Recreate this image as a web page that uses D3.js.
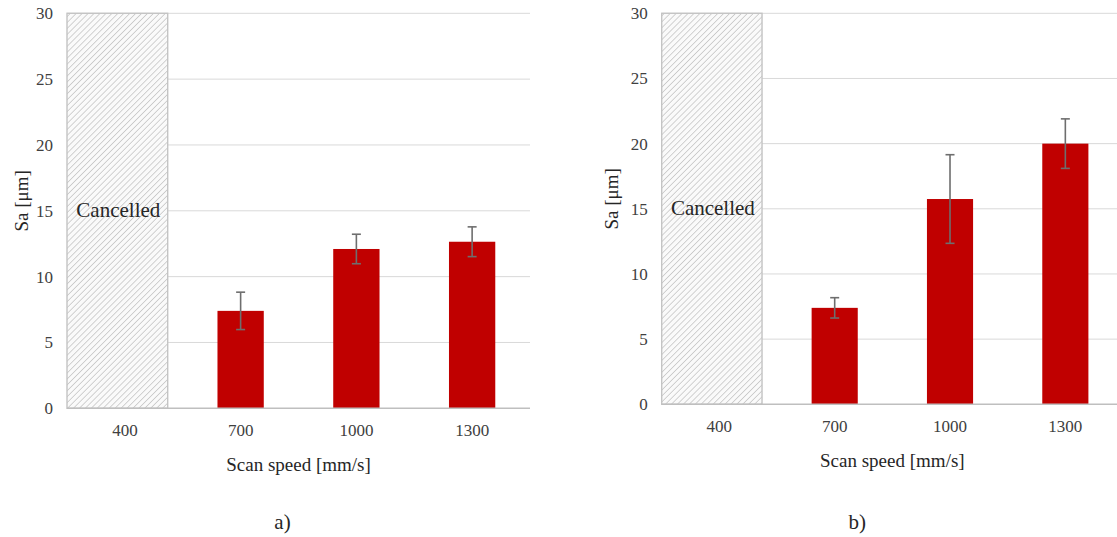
<!DOCTYPE html>
<html>
<head>
<meta charset="utf-8">
<script src="https://cdn.jsdelivr.net/npm/d3@7"></script>
<style>
  html, body { margin: 0; padding: 0; background: #fff; }
</style>
</head>
<body>
<svg id="chart" width="1117" height="537"></svg>
<script>
// Scan speed categories (mm/s)
const categories = ["400", "700", "1000", "1300"];
// Mean surface roughness Sa (µm); the 400 mm/s build was cancelled
const saA = [null, 7.4, 12.1, 12.65];
const errA = [null, 1.42, 1.12, 1.13];
const saB = [null, 7.4, 15.75, 20.0];
const errB = [null, 0.78, 3.4, 1.9];
const cancelledCategory = "400";
const cancelledLabel = "Cancelled";
const yTicks = [0, 5, 10, 15, 20, 25, 30];
const yMax = 30;
const xTitle = "Scan speed [mm/s]";
const yTitle = "Sa [μm]";
const captions = ["a)", "b)"];

const FONT = "'Liberation Serif', 'Times New Roman', serif";
const svg = d3.select("#chart");

// Shared diagonal hatch used for the cancelled run
const defs = svg.append("defs");
const pat = defs.append("pattern")
  .attr("id", "hatch")
  .attr("patternUnits", "userSpaceOnUse")
  .attr("width", 4.2).attr("height", 4.2)
  .attr("patternTransform", "rotate(45)");
pat.append("rect").attr("width", 4.2).attr("height", 4.2).attr("fill", "#fafafa");
pat.append("line")
  .attr("x1", 0).attr("y1", 0).attr("x2", 0).attr("y2", 4.2)
  .attr("stroke", "#c8c8c8").attr("stroke-width", 1.6);

function panel(cfg) {
  const { x0, x1, yTop, yBottom, values, errors, caption, captionShift, yTitleShift } = cfg;
  const g = svg.append("g");

  const x = d3.scaleBand().domain(categories).range([x0, x1])
    .paddingInner(0.6).paddingOuter(0.3);
  const step = x.step();
  const y = d3.scaleLinear().domain([0, yMax]).range([yBottom, yTop]);

  // Horizontal gridlines
  g.append("g").selectAll("line").data(yTicks.filter(t => t > 0)).join("line")
    .attr("x1", x0).attr("x2", x1)
    .attr("y1", d => y(d)).attr("y2", d => y(d))
    .attr("stroke", "#d9d9d9").attr("stroke-width", 1);

  // Y axis tick labels (no axis line)
  const yAxis = d3.axisLeft(y).tickValues(yTicks).tickSize(0).tickPadding(14)
    .tickFormat(d3.format("d"));
  g.append("g").attr("transform", `translate(${x0},0)`).call(yAxis)
    .call(a => a.select(".domain").remove())
    .call(a => a.selectAll("text").attr("font-size", 17).attr("fill", "#404040")
      .style("font-family", FONT));

  // Cancelled run: hatched box spanning the full y range
  const cx = x(cancelledCategory) + x.bandwidth() / 2;
  const boxRight = cx + 0.37 * step;
  g.append("rect")
    .attr("x", x0).attr("y", y(yMax))
    .attr("width", boxRight - x0).attr("height", y(0) - y(yMax))
    .attr("fill", "url(#hatch)")
    .attr("stroke", "#c4c4c4").attr("stroke-width", 1.4);
  g.append("text")
    .attr("x", (x0 + boxRight) / 2 + 1).attr("y", y(15) + 6)
    .attr("text-anchor", "middle")
    .attr("font-size", 21).attr("fill", "#262626")
    .style("font-family", FONT)
    .text(cancelledLabel);

  // Bars
  const data = categories.map((c, i) => ({ c, v: values[i], e: errors[i] }))
    .filter(d => d.v != null);
  g.append("g").selectAll("rect").data(data).join("rect")
    .attr("x", d => x(d.c)).attr("width", x.bandwidth())
    .attr("y", d => y(d.v)).attr("height", d => y(0) - y(d.v))
    .attr("fill", "#c00000");

  // Error bars
  const mid = d => x(d.c) + x.bandwidth() / 2;
  const eb = g.append("g").selectAll("g").data(data).join("g")
    .attr("stroke", "#6e6e6e").attr("stroke-width", 1.6);
  eb.append("line")
    .attr("x1", mid).attr("x2", mid)
    .attr("y1", d => y(d.v + d.e)).attr("y2", d => y(d.v - d.e));
  eb.append("line")
    .attr("x1", d => mid(d) - 4.5).attr("x2", d => mid(d) + 4.5)
    .attr("y1", d => y(d.v + d.e)).attr("y2", d => y(d.v + d.e));
  eb.append("line")
    .attr("x1", d => mid(d) - 4.5).attr("x2", d => mid(d) + 4.5)
    .attr("y1", d => y(d.v - d.e)).attr("y2", d => y(d.v - d.e));

  // Baseline and category labels
  const xAxis = d3.axisBottom(x).tickSize(0).tickPadding(16);
  g.append("g").attr("transform", `translate(0,${y(0)})`).call(xAxis)
    .call(a => a.select(".domain").attr("stroke", "#bfbfbf").attr("stroke-width", 1.6)
      .attr("d", `M${x0},0H${x1}`))
    .call(a => a.selectAll("text").attr("font-size", 17).attr("fill", "#404040")
      .style("font-family", FONT));

  // Axis titles
  const xMid = (x0 + x1) / 2;
  g.append("text")
    .attr("x", xMid).attr("y", y(0) + 63)
    .attr("text-anchor", "middle").attr("font-size", 19).attr("fill", "#262626")
    .style("font-family", FONT)
    .text(xTitle);
  g.append("text")
    .attr("transform", `translate(${x0 - 39 + yTitleShift},${(y(0) + y(yMax)) / 2 - 10}) rotate(-90)`)
    .attr("text-anchor", "middle").attr("font-size", 19).attr("fill", "#262626")
    .style("font-family", FONT)
    .text(yTitle);

  // Panel caption
  g.append("text")
    .attr("x", xMid + captionShift).attr("y", 529)
    .attr("text-anchor", "middle").attr("font-size", 21).attr("fill", "#262626")
    .style("font-family", FONT)
    .text(caption);
}

panel({ x0: 67, x1: 530, yTop: 13.3, yBottom: 408.3, values: saA, errors: errA,
        caption: captions[0], captionShift: -16, yTitleShift: 0 });
panel({ x0: 661.7, x1: 1123, yTop: 13.3, yBottom: 404.3, values: saB, errors: errB,
        caption: captions[1], captionShift: -35, yTitleShift: -5 });
</script>
</body>
</html>
